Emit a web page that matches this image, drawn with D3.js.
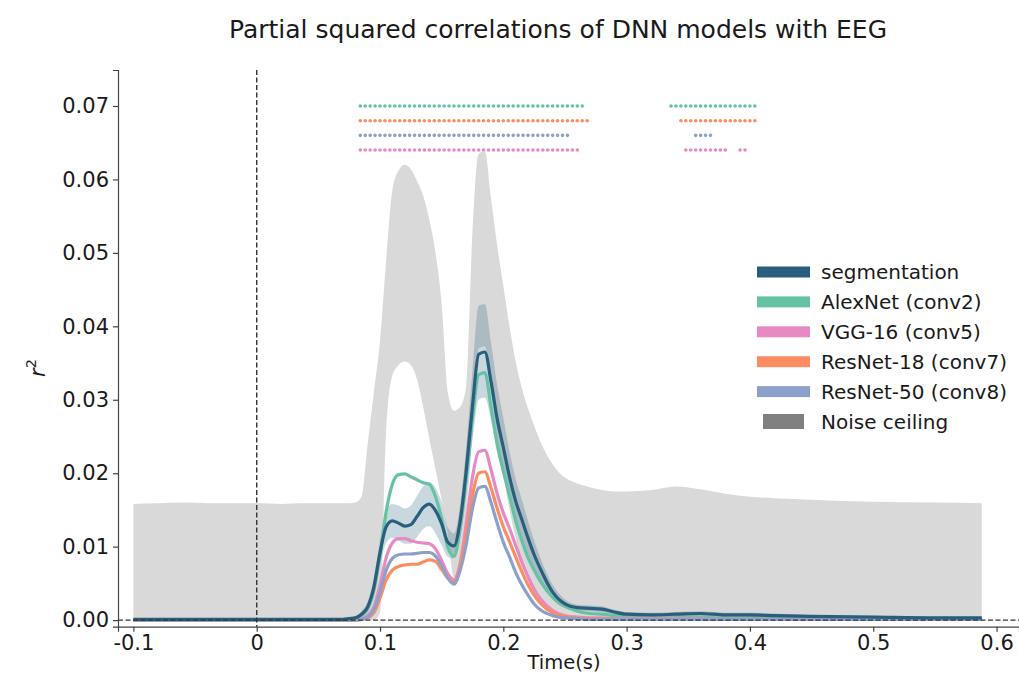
<!DOCTYPE html>
<html>
<head>
<meta charset="utf-8">
<script src="https://cdn.jsdelivr.net/npm/d3@7"></script>
<style>
  body { margin: 0; background: #fff; }
  text { font-family: "DejaVu Sans", sans-serif; fill: #1a1a1a; }
</style>
</head>
<body>
<div id="chart"></div>
<script>
// time axis (s), shared by every series below
var times = [-0.1, -0.08, -0.06, -0.04, -0.02, 0, 0.02, 0.04, 0.06, 0.07, 0.075, 0.08,
  0.085, 0.09, 0.095, 0.1, 0.105, 0.11, 0.115, 0.12, 0.125, 0.13,
  0.135, 0.14, 0.145, 0.15, 0.155, 0.16, 0.165, 0.17, 0.175, 0.18,
  0.185, 0.19, 0.195, 0.2, 0.205, 0.21, 0.215, 0.22, 0.225, 0.23,
  0.24, 0.25, 0.26, 0.27, 0.28, 0.29, 0.3,
  0.32, 0.34, 0.36, 0.38, 0.4, 0.42, 0.45, 0.5, 0.55, 0.588];

var segmentation = [0.0001, 0.0001, 0.0001, 0.0001, 0.0001, 0.0001, 0.0001, 0.0001, 0.0001, 0.0001, 0.0002, 0.0003,
  0.0008, 0.0018, 0.0045, 0.0092, 0.0127, 0.0135, 0.0132, 0.0128, 0.0130, 0.0141,
  0.0153, 0.0158, 0.0149, 0.0131, 0.0106, 0.0101, 0.0135, 0.0205, 0.0292, 0.0362,
  0.0365, 0.0325, 0.0274, 0.0235, 0.0195, 0.0162, 0.0137, 0.0112, 0.0089, 0.0070,
  0.0038, 0.0022, 0.0017, 0.0016, 0.0015, 0.0011, 0.0008,
  0.0007, 0.0008, 0.0009, 0.0007, 0.0007, 0.0006, 0.0005, 0.0004, 0.0003, 0.0003];

var segLower = [0, 0, 0, 0, 0, 0, 0, 0, 0, 0, 0.0001, 0.0001,
  0.0004, 0.0011, 0.0033, 0.0075, 0.0105, 0.0112, 0.0108, 0.0104, 0.0104, 0.0113,
  0.0124, 0.0128, 0.0118, 0.0102, 0.0086, 0.0084, 0.0113, 0.0172, 0.0245, 0.0300,
  0.0303, 0.0272, 0.0228, 0.0195, 0.0160, 0.0132, 0.0110, 0.0089, 0.0070, 0.0055,
  0.0028, 0.0016, 0.0013, 0.0012, 0.0011, 0.0008, 0.0005,
  0.0004, 0.0005, 0.0006, 0.0004, 0.0004, 0.0003, 0.0003, 0.0002, 0.0001, 0.0001];

var segUpper = [0.0002, 0.0002, 0.0002, 0.0002, 0.0002, 0.0002, 0.0002, 0.0002, 0.0002, 0.0002, 0.0003, 0.0005,
  0.0012, 0.0025, 0.0057, 0.0109, 0.0149, 0.0158, 0.0156, 0.0152, 0.0156, 0.0169,
  0.0182, 0.0188, 0.0180, 0.0160, 0.0126, 0.0118, 0.0157, 0.0238, 0.0340, 0.0428,
  0.0430, 0.0378, 0.0320, 0.0275, 0.0230, 0.0192, 0.0164, 0.0135, 0.0108, 0.0085,
  0.0048, 0.0028, 0.0021, 0.0020, 0.0019, 0.0014, 0.0011,
  0.0010, 0.0011, 0.0012, 0.0010, 0.0010, 0.0009, 0.0007, 0.0006, 0.0005, 0.0005];

var alexnet = [0, 0, 0, 0, 0, 0, 0, 0, 0, 0, 0.0001, 0.0002,
  0.0006, 0.0015, 0.0040, 0.0088, 0.0148, 0.0185, 0.0198, 0.0199, 0.0195, 0.0191,
  0.0187, 0.0185, 0.0168, 0.0138, 0.0099, 0.0087, 0.0125, 0.0195, 0.0275, 0.0334,
  0.0337, 0.0290, 0.0240, 0.0203, 0.0170, 0.0135, 0.0108, 0.0085, 0.0068, 0.0053,
  0.0031, 0.0019, 0.0012, 0.0009, 0.0008, 0.0006, 0.0005,
  0.0004, 0.0004, 0.0004, 0.0003, 0.0003, 0.0003, 0.0002, 0.0002, 0.0002, 0.0002];

var vgg16 = [0, 0, 0, 0, 0, 0, 0, 0, 0, 0, 0, 0.0001,
  0.0002, 0.0006, 0.0018, 0.0048, 0.0085, 0.0105, 0.0111, 0.0111, 0.0108, 0.0106,
  0.0105, 0.0104, 0.0097, 0.0081, 0.0063, 0.0055, 0.0078, 0.0132, 0.0195, 0.0229,
  0.0231, 0.0205, 0.0172, 0.0146, 0.0125, 0.0102, 0.0079, 0.0059, 0.0042, 0.0029,
  0.0013, 0.0006, 0.0004, 0.0003, 0.0003, 0.0002, 0.0002,
  0.0002, 0.0002, 0.0002, 0.0001, 0.0001, 0.0001, 0.0001, 0.0001, 0.0001, 0.0001];

var resnet18 = [0, 0, 0, 0, 0, 0, 0, 0, 0, 0, 0, 0,
  0.0001, 0.0003, 0.0010, 0.0030, 0.0055, 0.0068, 0.0073, 0.0075, 0.0076, 0.0076,
  0.0079, 0.0082, 0.0080, 0.0069, 0.0057, 0.0052, 0.0075, 0.0118, 0.0170, 0.0200,
  0.0202, 0.0180, 0.0152, 0.0127, 0.0107, 0.0086, 0.0066, 0.0048, 0.0034, 0.0023,
  0.0010, 0.0005, 0.0003, 0.0002, 0.0002, 0.0001, 0.0001,
  0.0001, 0.0001, 0.0001, 0.0001, 0.0001, 0.0001, 0.0001, 0.0001, 0.0001, 0.0001];

var resnet50 = [0, 0, 0, 0, 0, 0, 0, 0, 0, 0, 0, 0,
  0.0001, 0.0004, 0.0014, 0.0038, 0.0068, 0.0084, 0.0089, 0.0090, 0.0090, 0.0091,
  0.0092, 0.0092, 0.0087, 0.0074, 0.0057, 0.0049, 0.0068, 0.0104, 0.0152, 0.0180,
  0.0182, 0.0160, 0.0132, 0.0106, 0.0086, 0.0065, 0.0048, 0.0034, 0.0022, 0.0014,
  0.0006, 0.0003, 0.0002, 0.0001, 0.0001, 0.0001, 0.0001,
  0.0001, 0.0001, 0.0001, 0.0001, 0.0001, 0.0001, 0.0001, 0.0001, 0.0001, 0.0001];

// noise ceiling band (lower / upper bound)
var ceilLower = [0, 0, 0, 0, 0, 0, 0, 0, 0, 0, 0, 0,
  0, 0, 0, 0.001, 0.026, 0.0333, 0.0347, 0.0352, 0.0347, 0.0328,
  0.0290, 0.0247, 0.0205, 0.0163, 0.0115, 0.0058, 0.0075, 0.0145, 0.0255, 0.0370,
  0.0373, 0.0310, 0.0250, 0.0198, 0.0150, 0.0112, 0.0080, 0.0056, 0.0037, 0.0023,
  0.0008, 0.0002, 0, 0, 0, 0, 0,
  0, 0, 0, 0, 0, 0, 0, 0, 0, 0];

var ceilUpper = [0.0158, 0.0159, 0.0160, 0.0159, 0.0159, 0.0159, 0.0158, 0.0159, 0.0159, 0.0159, 0.0159, 0.0160,
  0.0168, 0.0240, 0.0310, 0.0380, 0.0490, 0.0585, 0.0612, 0.0620, 0.0614, 0.0598,
  0.0578, 0.0545, 0.0500, 0.0430, 0.0310, 0.0285, 0.0290, 0.0320, 0.0530, 0.0635,
  0.0638, 0.0575, 0.0510, 0.0455, 0.0400, 0.0352, 0.0316, 0.0288, 0.0265, 0.0243,
  0.0212, 0.0194, 0.0186, 0.0181, 0.0177, 0.0175, 0.0175,
  0.0177, 0.0182, 0.0178, 0.0172, 0.0168, 0.0166, 0.0164, 0.0161, 0.0160, 0.0159];

// significant time windows (s) per model, one row each
var sigAlexnet = [[0.084, 0.264], [0.336, 0.404]];
var sigResnet18 = [[0.084, 0.268], [0.344, 0.404]];
var sigResnet50 = [[0.084, 0.252], [0.356, 0.368]];
var sigVgg16 = [[0.084, 0.260], [0.348, 0.380], [0.392, 0.396]];
var sigLevels = [0.070, 0.068, 0.066, 0.064];
var sigStep = 0.004;

var legendLabels = ["segmentation", "AlexNet (conv2)", "VGG-16 (conv5)", "ResNet-18 (conv7)", "ResNet-50 (conv8)", "Noise ceiling"];
var xTicks = [-0.1, 0, 0.1, 0.2, 0.3, 0.4, 0.5, 0.6];
var xTickLabels = ["-0.1", "0", "0.1", "0.2", "0.3", "0.4", "0.5", "0.6"];
var yTicks = [0, 0.01, 0.02, 0.03, 0.04, 0.05, 0.06, 0.07];

var colors = {
    seg: "#275f7d",
    alex: "#66c2a5",
    vgg: "#e78ac3",
    r18: "#fc8d62",
    r50: "#8da0cb",
    ceil: "#d9d9d9",
    ceilKey: "#808080"
};

var width = 1019;
var height = 673;
var margin = { top: 70, right: 0, bottom: 46.3, left: 118 };

var svg = d3.select("#chart").append("svg")
    .attr("width", width)
    .attr("height", height);

var x = d3.scaleLinear()
    .domain([-0.1125, 0.6182])
    .range([margin.left, width - margin.right]);
var y = d3.scaleLinear()
    .domain([-0.0009, 0.0749])
    .range([height - margin.bottom, margin.top]);

var idx = times.map(function(t, i) { return i; });
var curve = d3.curveMonotoneX;

function band(lo, hi) {
    return d3.area()
        .x(function(i) { return x(times[i]); })
        .y0(function(i) { return y(lo[i]); })
        .y1(function(i) { return y(hi[i]); })
        .curve(curve);
}
function line(vals) {
    return d3.line()
        .x(function(i) { return x(times[i]); })
        .y(function(i) { return y(vals[i]); })
        .curve(curve);
}

// noise ceiling
svg.append("path")
    .datum(idx)
    .attr("d", band(ceilLower, ceilUpper))
    .attr("fill", colors.ceil);

// segmentation confidence band
svg.append("path")
    .datum(idx)
    .attr("d", band(segLower, segUpper))
    .attr("fill", colors.seg)
    .attr("fill-opacity", 0.25);

var series = [
    { vals: alexnet, color: colors.alex },
    { vals: vgg16, color: colors.vgg },
    { vals: resnet18, color: colors.r18 },
    { vals: resnet50, color: colors.r50 },
    { vals: segmentation, color: colors.seg }
];

series.forEach(function(s) {
    svg.append("path")
        .datum(idx)
        .attr("d", line(s.vals))
        .attr("fill", "none")
        .attr("stroke", s.color)
        .attr("stroke-width", 3.2)
        .attr("stroke-linejoin", "round");
});

// reference lines at r2 = 0 and t = 0
svg.append("line")
    .attr("x1", margin.left).attr("x2", width - margin.right)
    .attr("y1", y(0)).attr("y2", y(0))
    .attr("stroke", "#333").attr("stroke-width", 1.4)
    .attr("stroke-dasharray", "5,2.5");
svg.append("line")
    .attr("x1", x(0)).attr("x2", x(0))
    .attr("y1", margin.top).attr("y2", height - margin.bottom)
    .attr("stroke", "#333").attr("stroke-width", 1.4)
    .attr("stroke-dasharray", "5,2.5");

// significance markers, one dot per sample
var sigRows = [
    { spans: sigAlexnet, color: colors.alex },
    { spans: sigResnet18, color: colors.r18 },
    { spans: sigResnet50, color: colors.r50 },
    { spans: sigVgg16, color: colors.vgg }
];
var dotGap = x(sigStep) - x(0);
sigRows.forEach(function(row, r) {
    svg.selectAll(null)
        .data(row.spans)
        .enter().append("line")
        .attr("x1", function(d) { return x(d[0]); })
        .attr("x2", function(d) { return x(d[1]) + 0.5; })
        .attr("y1", y(sigLevels[r]))
        .attr("y2", y(sigLevels[r]))
        .attr("stroke", row.color)
        .attr("stroke-width", 3.6)
        .attr("stroke-linecap", "round")
        .attr("stroke-dasharray", "0," + dotGap);
});

// axes
var xAxis = svg.append("g")
    .attr("transform", "translate(0," + (height - margin.bottom) + ")")
    .call(d3.axisBottom(x)
        .tickValues(xTicks)
        .tickFormat(function(d, i) { return xTickLabels[i]; })
        .tickSize(5).tickPadding(3));
var yAxis = svg.append("g")
    .attr("transform", "translate(" + margin.left + ",0)")
    .call(d3.axisLeft(y)
        .tickValues(yTicks)
        .tickFormat(d3.format(".2f"))
        .tickSize(5).tickPadding(4));

[xAxis, yAxis].forEach(function(g) {
    g.select(".domain").attr("stroke", "#444").attr("stroke-width", 1.2);
    g.selectAll(".tick line").attr("stroke", "#444").attr("stroke-width", 1.2);
    g.selectAll(".tick text")
        .attr("font-family", "DejaVu Sans")
        .attr("font-size", 21)
        .attr("fill", "#1a1a1a");
});

// title and labels
svg.append("text")
    .attr("x", 558).attr("y", 38)
    .attr("text-anchor", "middle")
    .attr("font-size", 25)
    .text("Partial squared correlations of DNN models with EEG");

svg.append("text")
    .attr("x", 564).attr("y", 669)
    .attr("text-anchor", "middle")
    .attr("font-size", 19.5)
    .text("Time(s)");

var yLabel = svg.append("text")
    .attr("transform", "translate(45,368) rotate(-90)")
    .attr("text-anchor", "middle")
    .attr("font-size", 21);
yLabel.append("tspan").attr("font-style", "italic").text("r");
yLabel.append("tspan").attr("font-size", 14.5).attr("dy", -9).text("2");

// legend
var legendColors = [colors.seg, colors.alex, colors.vgg, colors.r18, colors.r50, colors.ceilKey];
var legend = svg.append("g").attr("transform", "translate(757,272)");
var rows = legend.selectAll("g")
    .data(legendLabels)
    .enter().append("g")
    .attr("transform", function(d, i) { return "translate(0," + (i * 29.9) + ")"; });
rows.append("rect")
    .attr("x", function(d, i) { return i === 5 ? 6 : 0; })
    .attr("y", function(d, i) { return i === 5 ? -7.5 : -5.5; })
    .attr("width", function(d, i) { return i === 5 ? 41 : 53; })
    .attr("height", function(d, i) { return i === 5 ? 15 : 11; })
    .attr("fill", function(d, i) { return legendColors[i]; });
rows.append("text")
    .attr("x", 64)
    .attr("y", 0)
    .attr("dy", "0.36em")
    .attr("font-size", 20)
    .text(function(d) { return d; });
</script>
</body>
</html>
